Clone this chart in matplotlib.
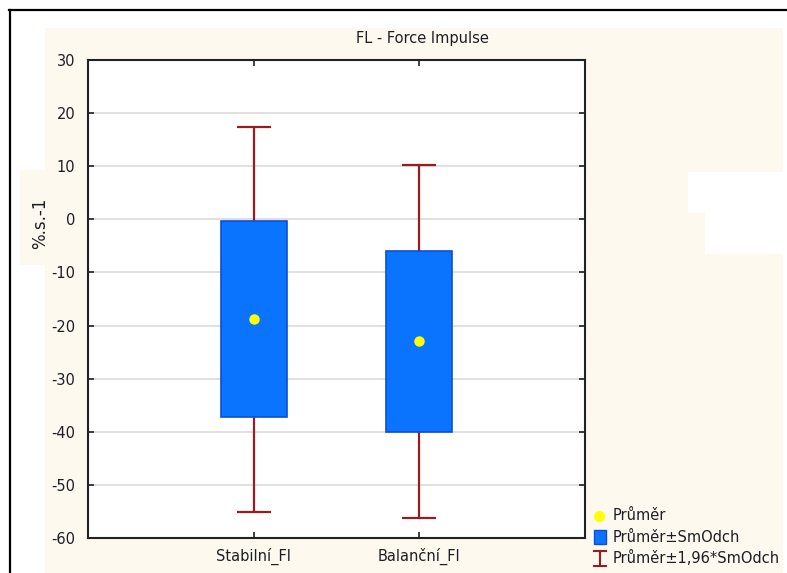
import matplotlib
matplotlib.use("Agg")
import matplotlib.pyplot as plt
from matplotlib.patches import Rectangle
from matplotlib.lines import Line2D
import numpy as np

plt.rcParams['font.family'] = ['DejaVu Sans']
plt.rcParams['axes.unicode_minus'] = False

# Data: mean and standard deviation per variable
categories = ["Stabilní_FI", "Balanční_FI"]
means = [-18.8, -23.0]
sds = [18.5, 17.0]
k_wide = 1.96

title = "FL - Force Impulse"
ylabel = "%.s.-1"
yticks = [30, 20, 10, 0, -10, -20, -30, -40, -50, -60]
legend_labels = ["Průměr", "Průměr±SmOdch", "Průměr±1,96*SmOdch"]

W, H = 787, 573
fig = plt.figure(figsize=(W / 100, H / 100), dpi=100)
fig.patch.set_facecolor("white")


def fx(x):
    return x / W


def fy(y):
    return 1 - y / H


cream = "#FEF9EE"
txt = "#1E1E28"
# background panels
fig.add_artist(Rectangle((fx(45), fy(573)), fx(783) - fx(45), fy(28) - fy(573),
                         transform=fig.transFigure, facecolor=cream, edgecolor="none", zorder=0))
fig.add_artist(Rectangle((fx(688), fy(213)), fx(787) - fx(688), fy(172) - fy(213),
                         transform=fig.transFigure, facecolor="white", edgecolor="none", zorder=0.5))
fig.add_artist(Rectangle((fx(705), fy(254)), fx(787) - fx(705), fy(213) - fy(254),
                         transform=fig.transFigure, facecolor="white", edgecolor="none", zorder=0.5))
fig.add_artist(Rectangle((fx(20), fy(265)), fx(63) - fx(20), fy(170) - fy(265),
                         transform=fig.transFigure, facecolor=cream, edgecolor="none", zorder=0.5))
# outer frame lines
fig.add_artist(Line2D([fx(9), fx(787)], [fy(10), fy(10)], transform=fig.transFigure,
                      color="black", lw=1.6, zorder=1))
fig.add_artist(Line2D([fx(9.5), fx(9.5)], [fy(10), fy(573)], transform=fig.transFigure,
                      color="black", lw=1.6, zorder=1))

ax = fig.add_axes([fx(88), fy(538), fx(585) - fx(88), fy(60) - fy(538)])
ax.set_facecolor("white")
ax.set_zorder(2)

x = np.arange(1, len(categories) + 1)
means_a = np.array(means)
sds_a = np.array(sds)

red = "#9B1C1F"
blue = "#0A74FF"
blue_edge = "#0A4FD6"

ax.errorbar(x, means_a, yerr=k_wide * sds_a, fmt="none", ecolor=red,
            elinewidth=1.6, capsize=12, capthick=1.6, zorder=2)
ax.bar(x, 2 * sds_a, bottom=means_a - sds_a, width=0.4, color=blue,
       edgecolor=blue_edge, linewidth=1.2, zorder=3)
ax.plot(x, means_a, "o", color="#FFFF00", markersize=7.5, markeredgewidth=0, zorder=4)

ax.set_xlim(0, len(categories) + 1)
ax.set_ylim(-60, 30)
ax.set_yticks(yticks)
ax.set_xticks(x)
ax.set_xticklabels(categories)
ax.yaxis.grid(True, color="#DADADA", lw=1.2)
ax.set_axisbelow(True)
ax.tick_params(axis="both", direction="in", length=4, width=1.2, labelsize=10.5,
               colors=txt, top=True, right=True, pad=7)
ax.tick_params(axis="y", pad=9)
for s in ax.spines.values():
    s.set_linewidth(1.5)
    s.set_color("#222222")

fig.text(fx(422), fy(38), title, ha="center", va="center", fontsize=10.5, color=txt)
fig.text(fx(40), fy(223), ylabel, ha="center", va="center", rotation=90,
         fontsize=12, color=txt, zorder=3)

# legend
fig.add_artist(Line2D([fx(599)], [fy(516)], transform=fig.transFigure, marker="o",
                      color="#FFFF00", markersize=8, markeredgewidth=0, zorder=3))
fig.add_artist(Rectangle((fx(594), fy(544)), fx(606) - fx(594), fy(530) - fy(544),
                         transform=fig.transFigure, facecolor=blue, edgecolor=blue_edge,
                         lw=1, zorder=3))
fig.add_artist(Line2D([fx(600), fx(600)], [fy(551), fy(566)], transform=fig.transFigure,
                      color=red, lw=1.5, zorder=3))
fig.add_artist(Line2D([fx(594), fx(606)], [fy(551), fy(551)], transform=fig.transFigure,
                      color=red, lw=1.5, zorder=3))
fig.add_artist(Line2D([fx(594), fx(606)], [fy(566), fy(566)], transform=fig.transFigure,
                      color=red, lw=1.5, zorder=3))
for lab, yy in zip(legend_labels, [516, 537, 558]):
    fig.text(fx(613), fy(yy), lab, ha="left", va="center", fontsize=10.5, color=txt)

fig.savefig("out.png", dpi=100, facecolor=fig.get_facecolor())
